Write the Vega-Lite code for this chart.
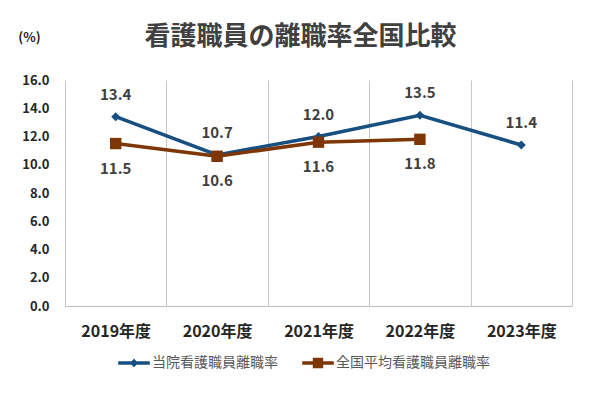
{
  "$schema": "https://vega.github.io/schema/vega-lite/v6.json",
  "width": 507,
  "height": 226,
  "autosize": {"type": "none"},
  "padding": {"left": 65, "top": 80, "right": 28, "bottom": 91},
  "background": "white",
  "config": {
    "view": {"stroke": null},
    "font": "Noto Sans CJK JP"
  },
  "title": {
    "text": "看護職員の離職率全国比較",
    "fontSize": 26,
    "fontWeight": "bold",
    "color": "#404040",
    "anchor": "middle",
    "dx": -18,
    "offset": -19
  },
  "data": {
    "values": [
      {"year": "2019年度", "series": "当院看護職員離職率", "rate": 13.4},
      {"year": "2020年度", "series": "当院看護職員離職率", "rate": 10.7},
      {"year": "2021年度", "series": "当院看護職員離職率", "rate": 12.0},
      {"year": "2022年度", "series": "当院看護職員離職率", "rate": 13.5},
      {"year": "2023年度", "series": "当院看護職員離職率", "rate": 11.4},
      {"year": "2019年度", "series": "全国平均看護職員離職率", "rate": 11.5},
      {"year": "2020年度", "series": "全国平均看護職員離職率", "rate": 10.6},
      {"year": "2021年度", "series": "全国平均看護職員離職率", "rate": 11.6},
      {"year": "2022年度", "series": "全国平均看護職員離職率", "rate": 11.8}
    ]
  },
  "encoding": {
    "x": {
      "field": "year",
      "type": "nominal",
      "sort": null,
      "scale": {"type": "band", "paddingInner": 0, "paddingOuter": 0},
      "axis": {
        "title": null,
        "labelAngle": 0,
        "labelFontSize": 16,
        "labelFontWeight": "bold",
        "labelColor": "#262626",
        "labelPadding": 17,
        "ticks": false,
        "domain": true,
        "domainColor": "#bfbfbf",
        "domainWidth": 1,
        "grid": true,
        "gridColor": "#c8c8c8",
        "gridWidth": 1,
        "tickBand": "extent"
      }
    },
    "y": {
      "field": "rate",
      "type": "quantitative",
      "scale": {"domain": [0, 16], "nice": false},
      "axis": {
        "title": "(%)",
        "titleAngle": 0,
        "titleAlign": "center",
        "titleBaseline": "middle",
        "titleX": -36,
        "titleY": -43,
        "titleFontSize": 13,
        "titleFontWeight": "bold",
        "titleColor": "#262626",
        "values": [0, 2, 4, 6, 8, 10, 12, 14, 16],
        "format": ".1f",
        "labelFontSize": 13,
        "labelFontWeight": "bold",
        "labelColor": "#262626",
        "labelPadding": 16,
        "ticks": false,
        "domain": false,
        "grid": false
      }
    },
    "color": {
      "field": "series",
      "type": "nominal",
      "sort": ["当院看護職員離職率", "全国平均看護職員離職率"],
      "scale": {"domain": ["当院看護職員離職率", "全国平均看護職員離職率"], "range": ["#174f80", "#7e3606"]},
      "legend": {
        "title": null,
        "orient": "none",
        "legendX": 53,
        "legendY": 267,
        "direction": "horizontal",
        "labelFontSize": 14,
        "labelColor": "#595959",
        "labelFont": "Noto Sans CJK JP",
        "symbolSize": 1000,
        "symbolType": "M-1,-0.11H1V0.11H-1Z M0,-0.27L0.27,0L0,0.27L-0.27,0Z",
        "columnPadding": 24,
        "labelOffset": 2,
        "encode": {
          "symbols": {
            "update": {
              "shape": {"signal": "datum.value == '当院看護職員離職率' ? 'M-1,-0.11H1V0.11H-1Z M0,-0.27L0.27,0L0,0.27L-0.27,0Z' : 'M-1,-0.11H1V0.11H-1Z M-0.33,-0.33H0.33V0.33H-0.33Z'"},
              "fill": {"signal": "datum.value == '当院看護職員離職率' ? '#174f80' : '#7e3606'"},
              "stroke": {"value": "transparent"},
              "strokeWidth": {"value": 0},
              "size": {"value": 1000},
              "opacity": {"value": 1},
              "fillOpacity": {"value": 1}
            }
          }
        }
      }
    }
  },
  "layer": [
    {
      "mark": {"type": "line", "strokeWidth": 3.5}
    },
    {
      "transform": [{"filter": "datum.series == '当院看護職員離職率'"}],
      "mark": {"type": "point", "filled": true, "opacity": 1, "shape": "diamond", "size": 80}
    },
    {
      "transform": [{"filter": "datum.series == '全国平均看護職員離職率'"}],
      "mark": {"type": "point", "filled": true, "opacity": 1, "shape": "square", "size": 130}
    },
    {
      "transform": [{"filter": "datum.series == '当院看護職員離職率'"}],
      "mark": {"type": "text", "dy": -22, "fontSize": 15, "fontWeight": "bold", "color": "#404040"},
      "encoding": {
        "text": {"field": "rate", "type": "quantitative", "format": ".1f"},
        "color": {"value": "#404040"}
      }
    },
    {
      "transform": [{"filter": "datum.series == '全国平均看護職員離職率'"}],
      "mark": {"type": "text", "dy": 25, "fontSize": 15, "fontWeight": "bold", "color": "#404040"},
      "encoding": {
        "text": {"field": "rate", "type": "quantitative", "format": ".1f"},
        "color": {"value": "#404040"}
      }
    }
  ]
}
